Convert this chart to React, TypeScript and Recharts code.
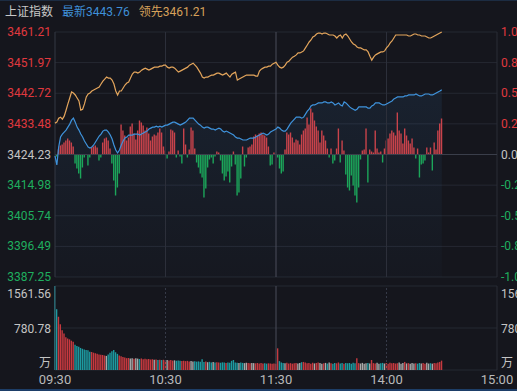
import React from "react";
import {
  ComposedChart,
  Line,
  Area,
  Bar,
  Cell,
  XAxis,
  YAxis,
  CartesianGrid,
  ReferenceLine,
} from "recharts";

const FONT = "Roboto, 'Noto Sans CJK SC', sans-serif";
const BG = "#15161d";
const RED = "#e0393f";
const GREEN = "#1fae5f";
const GRAY = "#c4c4c4";

const timeTicks = [0, 60, 120, 180, 240];
const timeLabels = ["09:30", "10:30", "11:30", "14:00", "15:00"];
const prevClose = 3424.23;
const priceTicks = [3387.25, 3396.49, 3405.74, 3414.98, 3424.23, 3433.48, 3442.72, 3451.97, 3461.21];
const volumeTicks = [0, 780.78, 1561.56];

// 领先指数 (orange)
const leadIndex = [
  3433.7, 3434.0, 3435.2, 3435.5, 3434.9, 3435.8, 3437.6, 3439.5, 3441.3, 3443.1,
  3442.8, 3442.2, 3441.3, 3440.4, 3437.6, 3437.9, 3439.5, 3441.6, 3442.5, 3442.8,
  3443.4, 3443.7, 3444.0, 3444.3, 3444.6, 3445.5, 3446.4, 3447.0, 3447.6, 3447.3,
  3447.3, 3446.7, 3445.5, 3443.4, 3442.2, 3443.4, 3443.4, 3444.3, 3445.2, 3445.8,
  3446.1, 3447.3, 3448.5, 3449.1, 3449.1, 3448.8, 3449.1, 3449.7, 3450.0, 3450.3,
  3450.0, 3449.7, 3450.0, 3450.3, 3450.6, 3450.6, 3450.6, 3450.9, 3450.9, 3451.2,
  3451.2, 3450.6, 3450.3, 3450.6, 3450.6, 3450.3, 3449.7, 3449.1, 3449.4, 3449.7,
  3450.0, 3450.3, 3450.6, 3451.2, 3451.5, 3451.8, 3451.2, 3450.6, 3449.7, 3448.8,
  3447.6, 3447.3, 3447.6, 3447.6, 3447.9, 3448.2, 3448.2, 3448.5, 3448.8, 3448.8,
  3448.5, 3448.2, 3448.5, 3448.8, 3448.2, 3447.6, 3448.5, 3448.8, 3449.1, 3446.7,
  3447.0, 3447.3, 3447.6, 3447.9, 3448.2, 3448.2, 3448.2, 3448.2, 3448.2, 3447.9,
  3447.9, 3449.4, 3450.0, 3450.3, 3450.6, 3450.6, 3450.9, 3450.9, 3451.5, 3451.8,
  3452.1, 3451.2, 3450.6, 3450.3, 3450.6, 3451.2, 3452.1, 3452.4, 3453.0, 3453.6,
  3453.9, 3454.3, 3454.9, 3454.9, 3455.2, 3455.5, 3456.4, 3457.3, 3458.2, 3458.8,
  3459.7, 3460.0, 3460.6, 3460.9, 3460.9, 3460.6, 3460.9, 3460.9, 3460.6, 3460.3,
  3460.3, 3460.3, 3460.0, 3459.4, 3460.0, 3460.3, 3459.4, 3460.3, 3460.6, 3460.0,
  3459.1, 3458.2, 3457.6, 3457.3, 3456.7, 3456.4, 3456.4, 3456.1, 3455.8, 3455.8,
  3455.2, 3453.9, 3452.7, 3453.6, 3454.3, 3454.6, 3454.9, 3455.2, 3455.2, 3455.5,
  3456.4, 3457.0, 3457.9, 3458.5, 3459.4, 3460.3, 3460.3, 3460.3, 3460.3, 3460.3,
  3460.3, 3460.3, 3460.0, 3460.0, 3460.3, 3460.6, 3460.6, 3460.3, 3460.3, 3460.0,
  3460.0, 3460.0, 3459.7, 3459.4, 3459.4, 3459.7, 3460.0, 3460.3, 3460.6, 3460.9, 3461.21,
];

// 最新 (blue)
const lastPrice = [
  3423.8, 3421.1, 3426.5, 3429.5, 3430.4, 3431.0, 3431.6, 3432.5, 3433.4, 3434.6,
  3435.2, 3434.0, 3432.5, 3431.6, 3430.4, 3429.5, 3428.3, 3427.4, 3426.5, 3426.2,
  3426.5, 3427.1, 3428.0, 3428.9, 3429.8, 3430.4, 3431.3, 3431.6, 3431.6, 3431.0,
  3430.1, 3428.9, 3427.1, 3425.6, 3424.7, 3425.6, 3427.1, 3428.3, 3429.2, 3429.5,
  3430.1, 3430.1, 3430.1, 3430.4, 3430.4, 3430.4, 3430.1, 3430.4, 3430.7, 3431.0,
  3431.3, 3431.9, 3432.2, 3432.5, 3432.5, 3432.8, 3432.5, 3432.8, 3432.5, 3432.8,
  3433.1, 3433.1, 3433.4, 3433.7, 3434.0, 3434.0, 3433.7, 3433.4, 3433.1, 3433.4,
  3433.7, 3434.0, 3434.6, 3435.2, 3435.2, 3435.2, 3434.6, 3434.0, 3433.4, 3433.1,
  3432.5, 3432.2, 3432.5, 3432.5, 3432.2, 3431.9, 3431.9, 3431.6, 3431.9, 3432.2,
  3431.9, 3431.3, 3431.0, 3431.3, 3431.0, 3430.7, 3430.4, 3430.1, 3429.5, 3429.2,
  3429.2, 3428.9, 3428.6, 3428.6, 3428.6, 3428.9, 3429.2, 3429.2, 3429.2, 3429.5,
  3429.8, 3430.1, 3430.4, 3430.7, 3430.4, 3430.1, 3430.4, 3431.0, 3431.3, 3431.6,
  3431.9, 3432.5, 3432.2, 3431.6, 3431.3, 3431.3, 3431.9, 3432.8, 3433.7, 3434.3,
  3434.9, 3435.5, 3435.5, 3435.5, 3435.2, 3435.5, 3436.4, 3437.3, 3437.9, 3438.9,
  3439.2, 3439.2, 3439.5, 3439.8, 3439.8, 3439.8, 3440.1, 3440.1, 3439.8, 3439.8,
  3440.1, 3439.8, 3439.2, 3439.5, 3439.8, 3439.2, 3438.9, 3440.1, 3439.8, 3439.2,
  3438.6, 3438.2, 3437.9, 3437.6, 3437.9, 3438.6, 3438.6, 3438.6, 3438.6, 3438.6,
  3438.2, 3438.2, 3438.9, 3439.2, 3439.8, 3439.8, 3439.8, 3439.5, 3439.2, 3439.2,
  3439.5, 3439.8, 3440.1, 3440.4, 3441.0, 3441.3, 3441.6, 3441.6, 3441.6, 3441.6,
  3441.9, 3441.9, 3442.2, 3442.2, 3442.2, 3442.2, 3442.5, 3442.2, 3441.9, 3441.9,
  3442.2, 3442.5, 3442.5, 3442.5, 3442.2, 3442.2, 3442.5, 3442.8, 3443.1, 3443.4, 3443.76,
];

// red / green strength bars around the previous close
const strength = [
  0, -2, 5, 9, 10, 12, 14, 16, 14, 12,
  8, -9, -14, -19, -24, -13, -3, 0, -11, -3,
  7, 8, 9, 7, -6, -3, 12, 16, 17, 14,
  6, -9, -26, -41, -33, -19, 30, 24, 19, 14,
  17, 28, 31, 21, 15, 24, 34, 32, 29, 24,
  27, 21, 14, 18, 20, 19, 22, 26, 22, 8,
  4, -4, 3, 25, 24, 22, -3, 4, -2, -9,
  26, 10, -3, 5, 27, 24, 6, -8, -13, -19,
  -23, -43, -34, -13, -5, -3, -9, -2, 3, 2,
  -6, -19, -26, -22, -17, -28, -12, 3, -10, -41,
  -38, -24, 8, -12, -3, 7, 8, 10, 18, 20,
  19, 21, 22, 20, 19, 17, 8, -11, -10, 2,
  0, -3, -14, -19, -17, 5, 22, 20, 22, 17,
  12, 15, 14, 10, 20, 24, 26, 37, 30, 46,
  42, 34, 28, 24, 12, 24, 19, 14, 6, -3,
  6, -9, -6, 6, 26, -8, 14, 4, -20, -33,
  -36, -21, -31, -41, -48, -33, -5, 4, 5, 26,
  -28, 5, 3, 2, 24, 6, 2, 3, -8, 6,
  14, 16, 21, 24, 22, 19, 42, 24, 21, 11,
  26, 19, 14, 11, 16, 7, -4, 6, -23, -10,
  -9, -6, 7, 2, 7, -16, 12, 5, 24, 31, 36,
];

// 成交量 (万)
const volume = [
  1561.56, 1130, 990, 850, 740, 680, 610, 585, 570, 545,
  525, 470, 445, 430, 410, 395, 380, 372, 365, 340,
  335, 322, 310, 300, 290, 282, 279, 270, 262, 290,
  320, 350, 372, 330, 300, 270, 255, 240, 232, 220,
  225, 215, 218, 210, 220, 212, 205, 215, 200, 208,
  198, 205, 195, 200, 190, 196, 188, 192, 185, 190,
  182, 188, 178, 185, 175, 180, 172, 178, 170, 168,
  172, 165, 170, 160, 166, 158, 162, 155, 160, 152,
  198, 150, 156, 145, 152, 140, 148, 138, 145, 140,
  135, 142, 138, 132, 140, 135, 170, 186, 140, 135,
  130, 138, 132, 128, 135, 130, 125, 132, 128, 124,
  130, 122, 128, 120, 126, 118, 124, 120, 116, 122,
  118, 403, 165, 140, 130, 125, 135, 120, 128, 118,
  125, 132, 120, 128, 145, 150, 140, 125, 130, 118,
  135, 122, 128, 140, 130, 118, 125, 132, 120, 138,
  126, 118, 130, 124, 140, 120, 128, 115, 132, 125,
  130, 118, 136, 125, 217, 128, 120, 132, 118, 125,
  130, 122, 186, 128, 120, 135, 118, 126, 132, 120,
  128, 118, 135, 124, 130, 120, 126, 140, 118, 130,
  150, 122, 128, 115, 132, 120, 126, 118, 130, 122,
  128, 116, 134, 120, 126, 118, 132, 124, 138, 150, 174,
];

const rows = lastPrice.map((p, i) => {
  const prev = i === 0 ? prevClose : lastPrice[i - 1];
  return {
    t: i,
    lead: leadIndex[i],
    last: p,
    strength: strength[i],
    vol: volume[i],
    volColor: p > prev ? "#c6393f" : p < prev ? "#1d9ba1" : "#a9a9a9",
  };
});

function PriceTick(props: any) {
  const { x, y, payload, side } = props;
  const v = payload.value as number;
  const fill = Math.abs(v - prevClose) < 0.01 ? GRAY : v > prevClose ? RED : GREEN;
  const text =
    side === "left"
      ? v.toFixed(2)
      : `${(((v - prevClose) / prevClose) * 100).toFixed(2)}%`;
  return (
    <text x={x} y={y} dy={4} textAnchor={side === "left" ? "end" : "start"} fill={fill} fontSize={12} fontFamily={FONT}>
      {text}
    </text>
  );
}

function VolumeTick(props: any) {
  const { x, y, payload, side } = props;
  const v = payload.value as number;
  const dy = v === 0 ? -3 : v > 1000 ? 12 : 5;
  return (
    <text x={x} y={y} dy={dy} textAnchor={side === "left" ? "end" : "start"} fill={GRAY} fontSize={12} fontFamily={FONT}>
      {v === 0 ? "万" : v.toFixed(2)}
    </text>
  );
}

function TimeTick(props: any) {
  const { x, y, payload } = props;
  const label = timeLabels[timeTicks.indexOf(payload.value)];
  return (
    <text x={x} y={y} dy={13} textAnchor="middle" fill="#b9b9b9" fontSize={13} fontFamily={FONT}>
      {label}
    </text>
  );
}

export default function App() {
  return (
    <div
      style={{
        position: "absolute",
        left: 0,
        top: 0,
        width: 517,
        height: 391,
        overflow: "hidden",
        background: BG,
        fontFamily: FONT,
      }}
    >
      <div style={{ position: "absolute", left: 0, top: 0, width: 517, height: 1, background: "#1c2c42" }} />
      <div style={{ position: "absolute", left: 5, top: 4, fontSize: 12, whiteSpace: "nowrap", lineHeight: "16px" }}>
        <span style={{ color: "#c8c8c8" }}>上证指数</span>
        <span style={{ color: "#3f90d8", marginLeft: 9 }}>最新3443.76</span>
        <span style={{ color: "#d6a15a", marginLeft: 9 }}>领先3461.21</span>
      </div>

      <div style={{ position: "absolute", left: 0, top: 0 }}>
        <ComposedChart width={560} height={290} data={rows} margin={{ top: 32, right: 0, bottom: 13, left: 0 }}>
          <defs>
            <linearGradient id="blueFade" x1="0" y1="0" x2="0" y2="1">
              <stop offset="0%" stopColor="#3f8fd8" stopOpacity={0.16} />
              <stop offset="100%" stopColor="#3f8fd8" stopOpacity={0.03} />
            </linearGradient>
          </defs>
          <XAxis dataKey="t" type="number" domain={[0, 240]} ticks={timeTicks} hide />
          <YAxis
            yAxisId="price"
            orientation="left"
            width={55}
            domain={[priceTicks[0], priceTicks[priceTicks.length - 1]]}
            ticks={priceTicks}
            interval={0}
            axisLine={false}
            tickLine={false}
            tickSize={0}
            tickMargin={4}
            tick={(p: any) => <PriceTick {...p} side="left" />}
          />
          <YAxis
            yAxisId="pct"
            orientation="right"
            width={63}
            domain={[priceTicks[0], priceTicks[priceTicks.length - 1]]}
            ticks={priceTicks}
            interval={0}
            axisLine={false}
            tickLine={false}
            tickSize={0}
            tickMargin={4}
            tick={(p: any) => <PriceTick {...p} side="right" />}
          />
          <YAxis yAxisId="str" hide domain={[-122.5, 122.5]} />
          <CartesianGrid yAxisId="price" vertical={false} stroke="#252832" />
          <ReferenceLine yAxisId="price" x={0} stroke="#343844" />
          <ReferenceLine yAxisId="price" x={240} stroke="#2a2d37" />
          <ReferenceLine yAxisId="price" x={60} stroke="#2c2f3a" />
          <ReferenceLine yAxisId="price" x={120} stroke="#4a4d5a" />
          <ReferenceLine yAxisId="price" x={180} stroke="#2c2f3a" />
          <ReferenceLine yAxisId="price" y={prevClose} stroke="#3a3e4a" />
          <Area
            yAxisId="price"
            dataKey="last"
            type="linear"
            stroke="none"
            fill="url(#blueFade)"
            isAnimationActive={false}
          />
          <Bar yAxisId="str" dataKey="strength" barSize={1.4} isAnimationActive={false}>
            {rows.map((r) => (
              <Cell key={r.t} fill={r.strength >= 0 ? "#c9434b" : "#1ca65a"} />
            ))}
          </Bar>
          <Line
            yAxisId="price"
            dataKey="lead"
            type="linear"
            stroke="#e3a55c"
            strokeWidth={1.2}
            dot={false}
            isAnimationActive={false}
          />
          <Line
            yAxisId="price"
            dataKey="last"
            type="linear"
            stroke="#3f93dc"
            strokeWidth={1.2}
            dot={false}
            isAnimationActive={false}
          />
          <Line
            yAxisId="pct"
            dataKey="last"
            stroke="none"
            dot={false}
            activeDot={false}
            legendType="none"
            isAnimationActive={false}
          />
        </ComposedChart>
      </div>

      <div style={{ position: "absolute", left: 0, top: 276 }}>
        <ComposedChart width={560} height={115} data={rows} margin={{ top: 10, right: 0, bottom: 0, left: 0 }}>
          <XAxis
            dataKey="t"
            type="number"
            domain={[0, 240]}
            ticks={timeTicks}
            interval={0}
            height={21}
            axisLine={false}
            tickLine={false}
            tickSize={0}
            tickMargin={1}
            tick={(p: any) => <TimeTick {...p} />}
          />
          <YAxis
            yAxisId="vol"
            orientation="left"
            width={55}
            domain={[0, volumeTicks[2]]}
            ticks={volumeTicks}
            interval={0}
            axisLine={false}
            tickLine={false}
            tickSize={0}
            tickMargin={4}
            tick={(p: any) => <VolumeTick {...p} side="left" />}
          />
          <YAxis
            yAxisId="volR"
            orientation="right"
            width={63}
            domain={[0, volumeTicks[2]]}
            ticks={volumeTicks}
            interval={0}
            axisLine={false}
            tickLine={false}
            tickSize={0}
            tickMargin={4}
            tick={(p: any) => <VolumeTick {...p} side="right" />}
          />
          <CartesianGrid yAxisId="vol" vertical={false} stroke="#252832" />
          <ReferenceLine yAxisId="vol" x={0} stroke="#343844" />
          <ReferenceLine yAxisId="vol" x={240} stroke="#2a2d37" />
          <ReferenceLine yAxisId="vol" x={60} stroke="#363a48" strokeDasharray="2 2" />
          <ReferenceLine yAxisId="vol" x={120} stroke="#4a4d5a" />
          <ReferenceLine yAxisId="vol" x={180} stroke="#363a48" strokeDasharray="2 2" />
          <Bar yAxisId="vol" dataKey="vol" barSize={1.4} isAnimationActive={false}>
            {rows.map((r) => (
              <Cell key={r.t} fill={r.volColor} />
            ))}
          </Bar>
          <Line
            yAxisId="volR"
            dataKey="vol"
            stroke="none"
            dot={false}
            activeDot={false}
            legendType="none"
            isAnimationActive={false}
          />
        </ComposedChart>
      </div>
      <div style={{ position: "absolute", left: 0, top: 389, width: 517, height: 2, background: "#1d3e68" }} />
    </div>
  );
}
